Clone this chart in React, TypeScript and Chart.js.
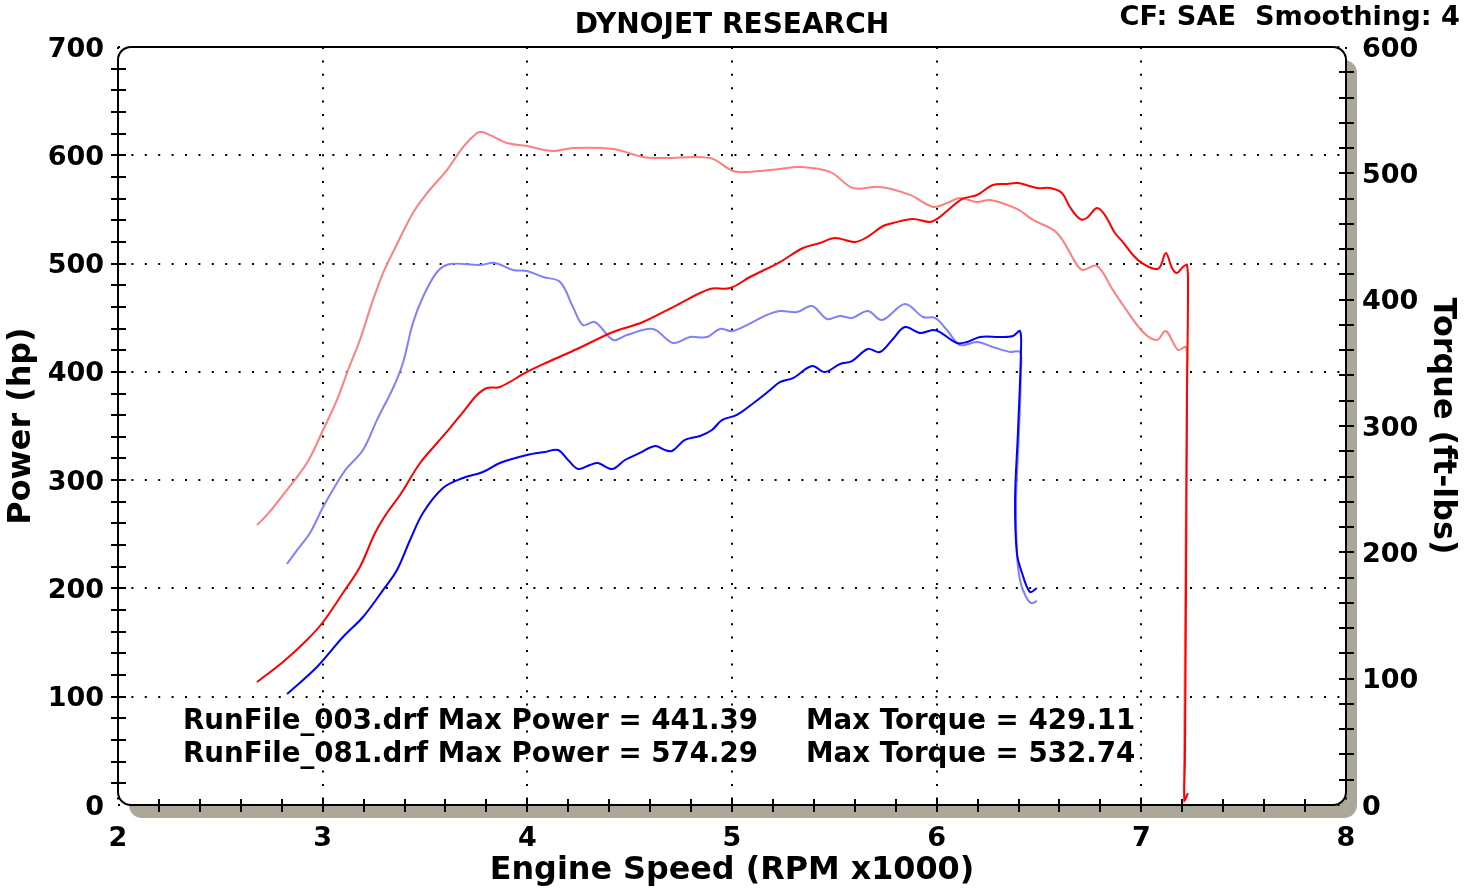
import { useEffect, useRef } from 'react';
import { Chart, registerables } from 'chart.js';

Chart.register(...registerables);

const FONT_FAMILY = '"DejaVu Sans", Verdana, sans-serif';

// ---- Axis ranges / ticks ----
const rpmMin = 2;
const rpmMax = 8;
const powerMax = 700;
const torqueMax = 600;

// ---- Header / annotation text ----
const chartTitle = 'DYNOJET RESEARCH';
const chartInfo = 'CF: SAE  Smoothing: 4';
const xTitle = 'Engine Speed (RPM x1000)';
const yPowerTitle = 'Power (hp)';
const yTorqueTitle = 'Torque (ft-lbs)';
const runNames = ['RunFile_003.drf', 'RunFile_081.drf'];
const maxPowers = ['441.39', '574.29'];
const maxTorques = ['429.11', '532.74'];

// ---- RunFile_081 power (hp) ----
const rpm081Power = [2.679, 2.806, 2.923, 3.002, 3.099, 3.182, 3.256, 3.314, 3.378, 3.476, 3.559, 3.622, 3.686, 3.754, 3.803, 3.866, 3.998, 4.101, 4.243, 4.419, 4.565, 4.731, 4.892, 4.990, 5.088, 5.234, 5.347, 5.430, 5.503, 5.601, 5.660, 5.738, 5.787, 5.884, 5.967, 6.002, 6.050, 6.124, 6.197, 6.275, 6.344, 6.397, 6.490, 6.554, 6.612, 6.651, 6.700, 6.734, 6.783, 6.822, 6.871, 6.910, 6.959, 7.003, 7.067, 7.091, 7.120, 7.150, 7.174, 7.203, 7.223, 7.228, 7.223, 7.218, 7.213, 7.211, 7.228];
const power081 = [113.6, 132.1, 152.4, 169.0, 195.8, 219.8, 251.2, 269.7, 286.3, 315.8, 334.3, 348.1, 362.9, 378.6, 385.1, 386.0, 399.9, 409.1, 421.1, 436.8, 446.0, 461.7, 476.5, 477.4, 487.6, 501.4, 514.4, 519.0, 523.6, 519.9, 524.5, 534.7, 537.5, 541.2, 538.4, 541.2, 548.5, 559.6, 563.3, 572.6, 573.5, 574.3, 569.8, 569.8, 565.2, 552.2, 541.2, 542.1, 551.3, 544.8, 528.2, 519.9, 507.9, 500.5, 495.0, 496.8, 509.8, 495.9, 491.3, 496.8, 498.7, 475.6, 374.0, 189.3, 41.6, 4.6, 11.0];

// ---- RunFile_081 torque (ft-lbs) ----
const rpm081Torque = [2.679, 2.728, 2.806, 2.923, 3.002, 3.070, 3.124, 3.182, 3.241, 3.295, 3.344, 3.441, 3.510, 3.607, 3.686, 3.754, 3.778, 3.818, 3.901, 3.998, 4.125, 4.223, 4.419, 4.565, 4.663, 4.892, 5.005, 5.073, 5.234, 5.332, 5.479, 5.591, 5.723, 5.870, 5.982, 6.050, 6.114, 6.197, 6.261, 6.392, 6.471, 6.588, 6.686, 6.715, 6.783, 6.861, 6.910, 7.008, 7.076, 7.120, 7.179, 7.218, 7.223, 7.218, 7.213, 7.208, 7.208];
const torque081 = [221.6, 229.6, 245.4, 270.7, 296.8, 320.6, 344.3, 368.1, 397.4, 421.1, 437.7, 468.6, 484.4, 502.6, 520.8, 531.9, 532.7, 530.3, 524.0, 521.6, 517.7, 520.1, 519.3, 512.9, 512.1, 512.1, 501.8, 501.1, 503.4, 505.0, 501.1, 488.4, 489.2, 482.9, 473.4, 476.5, 480.5, 477.3, 478.9, 471.8, 463.1, 452.8, 427.4, 423.5, 426.7, 407.7, 395.8, 374.4, 368.1, 375.2, 360.2, 362.5, 344.3, 241.4, 122.7, 11.9, 1.6];

// ---- RunFile_003 power (hp) ----
const rpm003Power = [2.826, 2.972, 3.099, 3.197, 3.295, 3.363, 3.427, 3.490, 3.588, 3.686, 3.783, 3.866, 3.998, 4.086, 4.150, 4.199, 4.248, 4.306, 4.345, 4.414, 4.477, 4.550, 4.624, 4.673, 4.707, 4.770, 4.844, 4.902, 4.951, 5.024, 5.112, 5.186, 5.234, 5.298, 5.391, 5.454, 5.528, 5.586, 5.664, 5.723, 5.782, 5.845, 5.919, 5.982, 6.016, 6.099, 6.148, 6.212, 6.309, 6.373, 6.407, 6.412, 6.397, 6.383, 6.392, 6.417, 6.456, 6.490];
const power003 = [102.5, 127.4, 155.1, 173.6, 198.5, 217.0, 244.7, 269.7, 292.7, 302.0, 307.5, 315.8, 323.2, 326.0, 327.8, 318.6, 310.3, 314.0, 315.8, 310.3, 318.6, 325.1, 331.5, 327.8, 326.9, 337.1, 340.8, 346.3, 355.5, 360.2, 372.2, 383.2, 390.6, 394.3, 405.4, 399.9, 407.3, 410.0, 421.1, 418.3, 429.4, 441.4, 435.9, 438.6, 436.8, 426.6, 427.6, 432.2, 432.2, 433.1, 437.7, 420.2, 343.5, 281.7, 232.7, 214.2, 196.7, 200.4];

// ---- RunFile_003 torque (ft-lbs) ----
const rpm003Torque = [2.826, 2.875, 2.938, 3.002, 3.070, 3.119, 3.197, 3.265, 3.344, 3.392, 3.441, 3.490, 3.559, 3.622, 3.769, 3.842, 3.930, 3.998, 4.077, 4.160, 4.223, 4.272, 4.331, 4.419, 4.487, 4.614, 4.712, 4.795, 4.878, 4.941, 5.005, 5.171, 5.234, 5.318, 5.391, 5.464, 5.528, 5.586, 5.664, 5.733, 5.845, 5.933, 5.992, 6.050, 6.114, 6.197, 6.275, 6.358, 6.407, 6.412, 6.402, 6.388, 6.392, 6.407, 6.432, 6.461, 6.490];
const torque003 = [190.8, 201.8, 215.3, 235.9, 254.9, 266.8, 281.0, 304.7, 330.1, 349.9, 381.5, 402.1, 421.9, 428.2, 427.4, 429.1, 423.5, 422.7, 417.9, 414.0, 394.2, 379.9, 382.3, 368.1, 372.0, 376.8, 365.7, 370.4, 370.4, 376.8, 375.2, 387.9, 391.0, 390.2, 395.0, 384.7, 387.1, 385.5, 391.0, 383.9, 396.6, 386.3, 385.5, 376.0, 364.1, 366.5, 362.5, 358.6, 358.6, 344.3, 294.5, 241.4, 199.5, 178.1, 166.2, 159.9, 161.5];

const toPoints = (xs: number[], ys: number[]) => xs.map((x, i) => ({ x, y: ys[i] }));

const dynoFrame = {
  id: 'dynoFrame',
  beforeDraw(chart: any) {
    const { ctx, chartArea: a } = chart;
    ctx.save();
    ctx.fillStyle = '#ffffff';
    ctx.fillRect(0, 0, chart.width, chart.height);
    ctx.fillStyle = '#aca899';
    ctx.beginPath();
    ctx.roundRect(a.left + 11, a.top + 13, a.right - a.left, a.bottom - a.top, 13);
    ctx.fill();
    ctx.fillStyle = '#ffffff';
    ctx.beginPath();
    ctx.roundRect(a.left, a.top, a.right - a.left, a.bottom - a.top, 13);
    ctx.fill();
    ctx.restore();
  },
  beforeDatasetsDraw(chart: any) {
    const { ctx, chartArea: a, scales } = chart;
    ctx.save();
    ctx.strokeStyle = '#000';
    ctx.lineWidth = 2;
    ctx.beginPath();
    ctx.roundRect(a.left, a.top, a.right - a.left, a.bottom - a.top, 13);
    ctx.stroke();
    ctx.beginPath();
    const yp = scales.yPower;
    for (let v = 20; v < powerMax; v += 20) {
      const y = Math.round(yp.getPixelForValue(v));
      ctx.moveTo(a.left - 7, y);
      ctx.lineTo(a.left + 8, y);
    }
    const yt = scales.yTorque;
    for (let v = 20; v < torqueMax; v += 20) {
      const y = Math.round(yt.getPixelForValue(v));
      ctx.moveTo(a.right - 7, y);
      ctx.lineTo(a.right + 8, y);
    }
    const xs = scales.x;
    for (let i = 1; i < (rpmMax - rpmMin) * 5; i++) {
      const x = Math.round(xs.getPixelForValue(rpmMin + i * 0.2));
      ctx.moveTo(x, a.bottom - 6);
      ctx.lineTo(x, a.bottom + 7);
    }
    ctx.stroke();
    ctx.restore();
  },
  afterDraw(chart: any) {
    const { ctx, chartArea: a } = chart;
    ctx.save();
    ctx.fillStyle = '#000';
    ctx.textBaseline = 'alphabetic';
    ctx.font = `bold 28px ${FONT_FAMILY}`;
    ctx.textAlign = 'center';
    ctx.fillText(chartTitle, (a.left + a.right) / 2, 33);
    ctx.font = `bold 27.2px ${FONT_FAMILY}`;
    ctx.textAlign = 'right';
    ctx.fillText(chartInfo, 1460, 25);
    ctx.font = `bold 27.7px ${FONT_FAMILY}`;
    ctx.textAlign = 'left';
    const baselines = [729, 762];
    runNames.forEach((name, i) => {
      ctx.fillText(`${name} Max Power = ${maxPowers[i]}`, 183, baselines[i]);
      ctx.fillText(`Max Torque = ${maxTorques[i]}`, 806, baselines[i]);
    });
    ctx.restore();
  },
};

export default function App() {
  const canvasRef = useRef<HTMLCanvasElement | null>(null);

  useEffect(() => {
    if (!canvasRef.current) return;
    const tickFont = { family: FONT_FAMILY, size: 27, weight: 'bold' as const };
    const titleFont = { family: FONT_FAMILY, size: 31.8, weight: 'bold' as const };
    const line = (label: string, xs: number[], ys: number[], color: string, axis: string, order: number) => ({
      label,
      data: toPoints(xs, ys),
      yAxisID: axis,
      borderColor: color,
      backgroundColor: color,
      borderWidth: 2,
      pointRadius: 0,
      showLine: true,
      tension: 0.35,
      fill: false,
      order,
    });
    const chart = new Chart(canvasRef.current, {
      type: 'scatter',
      data: {
        datasets: [
          line('RunFile_081 Power', rpm081Power, power081, '#ff0000', 'yPower', 1),
          line('RunFile_081 Torque', rpm081Torque, torque081, '#ff7f7f', 'yTorque', 2),
          line('RunFile_003 Power', rpm003Power, power003, '#0000ff', 'yPower', 1),
          line('RunFile_003 Torque', rpm003Torque, torque003, '#7f7fff', 'yTorque', 2),
        ],
      },
      options: {
        animation: false,
        responsive: true,
        maintainAspectRatio: false,
        layout: { padding: { top: 47, left: 0, right: 0, bottom: 0 } },
        plugins: { legend: { display: false }, tooltip: { enabled: false } },
        scales: {
          x: {
            type: 'linear',
            position: 'bottom',
            min: rpmMin,
            max: rpmMax,
            afterFit: (s: any) => { s.height = 87; },
            ticks: { stepSize: 1, font: tickFont, color: '#000', padding: 18, maxRotation: 0 },
            grid: { color: '#000', lineWidth: 2, drawTicks: false },
            border: { display: false, dash: [2, 11.4] },
            title: { display: true, text: xTitle, font: titleFont, color: '#000', padding: { top: 0, bottom: 2 } },
          },
          yPower: {
            type: 'linear',
            position: 'left',
            min: 0,
            max: powerMax,
            afterFit: (s: any) => { s.width = 118; },
            ticks: { stepSize: 100, font: tickFont, color: '#000', padding: 14, labelOffset: 2.5 },
            grid: { color: '#000', lineWidth: 2, drawTicks: false },
            border: { display: false, dash: [2, 11.4] },
            title: { display: true, text: yPowerTitle, font: titleFont, color: '#000', padding: { top: 3, bottom: 0 } },
          },
          yTorque: {
            type: 'linear',
            position: 'right',
            min: 0,
            max: torqueMax,
            afterFit: (s: any) => { s.width = 131; },
            ticks: { stepSize: 100, font: tickFont, color: '#000', padding: 16, labelOffset: 2.5 },
            grid: { display: false, drawTicks: false },
            border: { display: false },
            title: { display: true, text: yTorqueTitle, font: titleFont, color: '#000', padding: { top: 16, bottom: 0 } },
          },
        },
      },
      plugins: [dynoFrame],
    } as any);
    return () => chart.destroy();
  }, []);

  return (
    <div style={{ position: 'absolute', left: 0, top: 0, width: 1477, height: 892, background: '#fff' }}>
      <canvas ref={canvasRef} />
    </div>
  );
}
